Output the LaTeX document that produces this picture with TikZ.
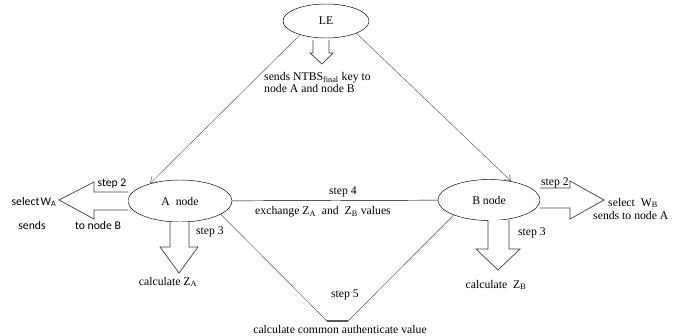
\documentclass[tikz,border=0pt]{standalone}
\usepackage{fontspec}
\setmainfont{Liberation Serif}
\newfontfamily\calfont{Carlito}
\usetikzlibrary{calc,arrows.meta,positioning,shapes.geometric}

\begin{document}
\begin{tikzpicture}[x=0.03cm,y=-0.03cm,>={Straight Barb[length=5pt,width=6pt]},font=\fontsize{10}{10.5}\selectfont]
	    \tikzstyle{oval}=[draw=black,ellipse,inner sep=0pt]
	    \tikzstyle{fat}=[draw=black!75,fill=white,line width=0.6pt,line join=miter]
	    \tikzstyle{wire}=[draw=black!65]
	    \tikzstyle{lbl}=[inner sep=0pt]
	    \useasboundingbox (0,0) rectangle (683,335);
	    
	    \node[oval,minimum width=2.58cm,minimum height=1.02cm] (le) at (326,21) {LE};
	    \node[oval,minimum width=3.12cm,minimum height=1.26cm] (anode) at (180,201) {A~ node};
	    \node[oval,minimum width=3.06cm,minimum height=1.23cm] (bnode) at (489,200) {B node};
	    
	    % fat arrows
	    \draw[fat] (313,40) -- (313,53) -- (310,53) -- (322,64) -- (333,53) -- (329,53) -- (329,40);
	    \draw[fat] (128,192) -- (94,192) -- (94,182) -- (59,200) -- (94,219) -- (94,210) -- (128,210);
	    \draw[fat] (170,222) -- (170,247) -- (160,247) -- (179,273) -- (198,247) -- (189,247) -- (189,222);
	    \draw[fat] (540,188) -- (570,188) -- (570,181) -- (604,200) -- (570,219) -- (570,208) -- (540,208);
	    \draw[fat] (488,220) -- (488,249) -- (476,249) -- (498,270) -- (520,249) -- (509,249) -- (509,220);
	    
	    % connectors
	    \draw[wire,->] (le.208) -- (anode.150);
	    \draw[wire,->] (le.338) -- (bnode.40);
	    \draw[black] (anode) -- (bnode);
	    \coordinate (v1) at (327,321);
	    \coordinate (v2) at (348,321);
	    \draw[wire] (anode.-18) -- (v1);
	    \draw[black!65,line width=1.2pt] (v1) -- (v2);
	    \draw[wire] (v2) -- (bnode.203);
	    
	    % labels
	    \node[lbl,align=left,anchor=north west] (lenote) at (264,72) {sends NTBS\textsubscript{final} key to\\node A and node B};
	    \node[lbl] (astep2) at (112,184) {\calfont step 2};
	    \node[lbl] (asel) at (34,202) {\calfont select\kern1pt{}W\textsubscript{A}};
	    \node[lbl] (asends) at (32,225) {\calfont sends};
	    \node[lbl] (atonode) at (98,225) {\calfont to node B};
	    \node[lbl] (astep3) at (210,232) {step 3};
	    \node[lbl] (acalc) at (168,282) {calculate Z\textsubscript{A}};
	    \node[lbl] (step4) at (343,192) {step 4};
	    \node[lbl] (exch) at (323,212) {exchange Z\textsubscript{A}~ and~ Z\textsubscript{B} values};
	    \node[lbl] (bstep2) at (555,183) {step 2};
	    \node[lbl,anchor=west] (bsel) at (608,203) {select~ W\textsubscript{B}};
	    \node[lbl,anchor=west] (bsends) at (593,215) {sends to node A};
	    \node[lbl] (bstep3) at (532,233) {step 3};
	    \node[lbl] (bcalc) at (496,285) {calculate~ Z\textsubscript{B}};
	    \node[lbl] (step5) at (345,295) {step 5};
	    \node[lbl] (common) at (340,329) {calculate common authenticate value};
    
    \end{tikzpicture}
\end{document}
